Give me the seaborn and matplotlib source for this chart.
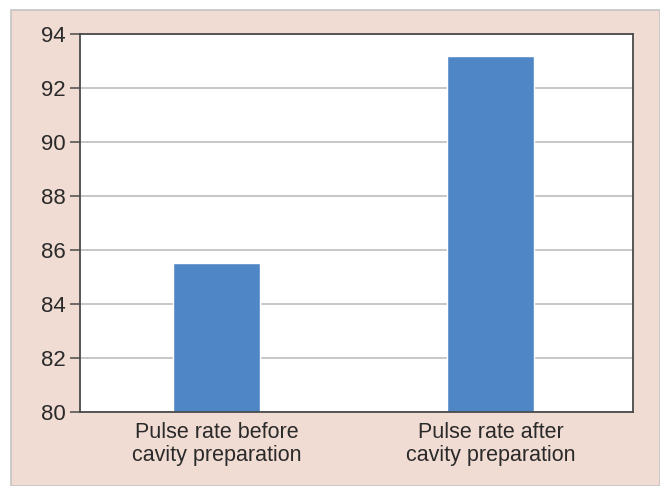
import matplotlib
matplotlib.use("Agg")
import matplotlib.pyplot as plt
import pandas as pd
import seaborn as sns
from matplotlib.patches import Rectangle

categories = ["Pulse rate before\ncavity preparation", "Pulse rate after\ncavity preparation"]
values = [85.5, 93.2]
yticks = [80, 82, 84, 86, 88, 90, 92, 94]

BG = "#f1dcd3"
BAR = "#4f86c6"

sns.set_style("white")
plt.rcParams["font.family"] = ["Liberation Sans", "DejaVu Sans"]

df = pd.DataFrame({"group": categories, "value": values})

fig = plt.figure(figsize=(6.6, 4.86), dpi=100)
fig.patch.set_facecolor("white")
W, H = 660, 486
fig.add_artist(Rectangle((11 / W, 0), 1 - 11 / W, 1 - 10 / H, transform=fig.transFigure,
                         facecolor=BG, edgecolor="#c4c4c4", linewidth=1.2, zorder=-5))

ax = fig.add_axes([80 / W, 1 - 412 / H, 553 / W, 378 / H])
sns.barplot(data=df, x="group", y="value", color=BAR, width=0.317, ax=ax, saturation=1)
ax.set_facecolor("white")
ax.set_xlim(-0.498, 1.52)
ax.set_ylim(80, 94)
ax.set_yticks(yticks)
ax.yaxis.grid(True, color="#bdbdbd", linewidth=1.2)
ax.set_axisbelow(True)
ax.set_xlabel("")
ax.set_ylabel("")
for s in ax.spines.values():
    s.set_color("#4a4a4a")
    s.set_linewidth(1.3)
ax.tick_params(axis="y", left=True, length=7.5, width=1.1, color="#4a4a4a", labelsize=16, pad=3,
               labelcolor="#2a2a2a")
ax.tick_params(axis="x", bottom=False, labelsize=15.5, pad=4, labelcolor="#2a2a2a")
for lbl in ax.get_xticklabels():
    lbl.set_linespacing(1.12)

fig.savefig("out.png", dpi=100, facecolor=fig.get_facecolor())
